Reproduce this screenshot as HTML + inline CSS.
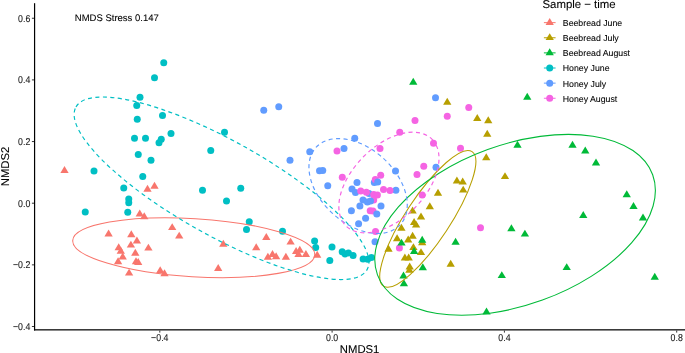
<!DOCTYPE html>
<html><head><meta charset="utf-8"><title>NMDS plot</title>
<style>
html,body{margin:0;padding:0;background:#fff}
svg{display:block}
text{font-family:"Liberation Sans",Arial,sans-serif;fill:#000;stroke:#000;stroke-width:0.08px;text-rendering:geometricPrecision}
.tk{font-size:8.8px;fill:#1a1a1a}
.ti{font-size:11.3px}
.an{font-size:9.5px}
.lt{font-size:11.4px}
.lg{font-size:8.75px}
</style></head><body>
<svg width="685" height="353" viewBox="0 0 685 353">
<rect width="685" height="353" fill="#fff"/>
<g><path d="M64.50 166.05L68.65 173.00L60.35 173.00Z" fill="#F8766D"/><path d="M154.50 181.85L158.65 188.80L150.35 188.80Z" fill="#F8766D"/><path d="M147.50 184.85L151.65 191.80L143.35 191.80Z" fill="#F8766D"/><path d="M139.75 209.60L143.90 216.55L135.60 216.55Z" fill="#F8766D"/><path d="M144.25 212.35L148.40 219.30L140.10 219.30Z" fill="#F8766D"/><path d="M172.20 223.15L176.35 230.10L168.05 230.10Z" fill="#F8766D"/><path d="M179.20 231.65L183.35 238.60L175.05 238.60Z" fill="#F8766D"/><path d="M108.60 229.55L112.75 236.50L104.45 236.50Z" fill="#F8766D"/><path d="M131.30 230.35L135.45 237.30L127.15 237.30Z" fill="#F8766D"/><path d="M136.90 236.55L141.05 243.50L132.75 243.50Z" fill="#F8766D"/><path d="M130.90 240.65L135.05 247.60L126.75 247.60Z" fill="#F8766D"/><path d="M118.70 243.35L122.85 250.30L114.55 250.30Z" fill="#F8766D"/><path d="M148.40 243.65L152.55 250.60L144.25 250.60Z" fill="#F8766D"/><path d="M120.80 246.75L124.95 253.70L116.65 253.70Z" fill="#F8766D"/><path d="M135.30 248.75L139.45 255.70L131.15 255.70Z" fill="#F8766D"/><path d="M122.70 252.55L126.85 259.50L118.55 259.50Z" fill="#F8766D"/><path d="M118.10 257.35L122.25 264.30L113.95 264.30Z" fill="#F8766D"/><path d="M136.00 257.35L140.15 264.30L131.85 264.30Z" fill="#F8766D"/><path d="M138.20 257.95L142.35 264.90L134.05 264.90Z" fill="#F8766D"/><path d="M129.10 268.65L133.25 275.60L124.95 275.60Z" fill="#F8766D"/><path d="M160.20 266.35L164.35 273.30L156.05 273.30Z" fill="#F8766D"/><path d="M164.50 269.25L168.65 276.20L160.35 276.20Z" fill="#F8766D"/><path d="M223.30 239.75L227.45 246.70L219.15 246.70Z" fill="#F8766D"/><path d="M218.20 263.95L222.35 270.90L214.05 270.90Z" fill="#F8766D"/><path d="M266.30 232.95L270.45 239.90L262.15 239.90Z" fill="#F8766D"/><path d="M256.20 243.35L260.35 250.30L252.05 250.30Z" fill="#F8766D"/><path d="M290.60 237.65L294.75 244.60L286.45 244.60Z" fill="#F8766D"/><path d="M267.90 252.75L272.05 259.70L263.75 259.70Z" fill="#F8766D"/><path d="M272.50 250.05L276.65 257.00L268.35 257.00Z" fill="#F8766D"/><path d="M276.10 252.35L280.25 259.30L271.95 259.30Z" fill="#F8766D"/><path d="M285.90 252.75L290.05 259.70L281.75 259.70Z" fill="#F8766D"/><path d="M296.10 247.05L300.25 254.00L291.95 254.00Z" fill="#F8766D"/><path d="M299.80 245.75L303.95 252.70L295.65 252.70Z" fill="#F8766D"/><path d="M298.50 250.05L302.65 257.00L294.35 257.00Z" fill="#F8766D"/><path d="M305.90 250.05L310.05 257.00L301.75 257.00Z" fill="#F8766D"/><path d="M317.20 250.75L321.35 257.70L313.05 257.70Z" fill="#F8766D"/><circle cx="163.75" cy="62.75" r="3.5" fill="#00BFC4"/><circle cx="154.50" cy="77.75" r="3.5" fill="#00BFC4"/><circle cx="140.00" cy="97.25" r="3.5" fill="#00BFC4"/><circle cx="136.75" cy="105.50" r="3.5" fill="#00BFC4"/><circle cx="162.50" cy="115.50" r="3.5" fill="#00BFC4"/><circle cx="137.25" cy="119.25" r="3.5" fill="#00BFC4"/><circle cx="171.00" cy="133.50" r="3.5" fill="#00BFC4"/><circle cx="134.50" cy="138.25" r="3.5" fill="#00BFC4"/><circle cx="145.50" cy="138.25" r="3.5" fill="#00BFC4"/><circle cx="161.25" cy="139.25" r="3.5" fill="#00BFC4"/><circle cx="159.00" cy="142.75" r="3.5" fill="#00BFC4"/><circle cx="138.25" cy="154.50" r="3.5" fill="#00BFC4"/><circle cx="151.00" cy="160.25" r="3.5" fill="#00BFC4"/><circle cx="94.00" cy="171.00" r="3.5" fill="#00BFC4"/><circle cx="142.75" cy="176.50" r="3.5" fill="#00BFC4"/><circle cx="224.50" cy="132.25" r="3.5" fill="#00BFC4"/><circle cx="210.75" cy="150.50" r="3.5" fill="#00BFC4"/><circle cx="123.75" cy="188.00" r="3.5" fill="#00BFC4"/><circle cx="128.75" cy="199.00" r="3.5" fill="#00BFC4"/><circle cx="128.75" cy="202.75" r="3.5" fill="#00BFC4"/><circle cx="127.75" cy="212.25" r="3.5" fill="#00BFC4"/><circle cx="85.25" cy="212.00" r="3.5" fill="#00BFC4"/><circle cx="202.50" cy="190.25" r="3.5" fill="#00BFC4"/><circle cx="240.75" cy="188.25" r="3.5" fill="#00BFC4"/><circle cx="226.50" cy="201.00" r="3.5" fill="#00BFC4"/><circle cx="249.25" cy="221.75" r="3.5" fill="#00BFC4"/><circle cx="246.50" cy="229.50" r="3.5" fill="#00BFC4"/><circle cx="282.50" cy="231.20" r="3.5" fill="#00BFC4"/><circle cx="314.60" cy="241.00" r="3.5" fill="#00BFC4"/><circle cx="315.70" cy="247.40" r="3.5" fill="#00BFC4"/><circle cx="332.00" cy="247.00" r="3.5" fill="#00BFC4"/><circle cx="329.80" cy="260.50" r="3.5" fill="#00BFC4"/><circle cx="342.20" cy="251.80" r="3.5" fill="#00BFC4"/><circle cx="345.00" cy="253.90" r="3.5" fill="#00BFC4"/><circle cx="348.40" cy="252.90" r="3.5" fill="#00BFC4"/><circle cx="353.10" cy="255.60" r="3.5" fill="#00BFC4"/><circle cx="363.10" cy="259.00" r="3.5" fill="#00BFC4"/><circle cx="367.60" cy="259.30" r="3.5" fill="#00BFC4"/><circle cx="371.40" cy="257.50" r="3.5" fill="#00BFC4"/><circle cx="263.75" cy="110.25" r="3.5" fill="#619CFF"/><circle cx="278.75" cy="106.75" r="3.5" fill="#619CFF"/><circle cx="309.75" cy="151.75" r="3.5" fill="#619CFF"/><circle cx="290.00" cy="160.25" r="3.5" fill="#619CFF"/><circle cx="319.50" cy="170.75" r="3.5" fill="#619CFF"/><circle cx="322.75" cy="170.50" r="3.5" fill="#619CFF"/><circle cx="344.00" cy="148.50" r="3.5" fill="#619CFF"/><circle cx="435.50" cy="97.75" r="3.5" fill="#619CFF"/><circle cx="377.50" cy="123.50" r="3.5" fill="#619CFF"/><circle cx="354.75" cy="138.25" r="3.5" fill="#619CFF"/><circle cx="395.50" cy="171.00" r="3.5" fill="#619CFF"/><circle cx="436.00" cy="167.25" r="3.5" fill="#619CFF"/><circle cx="327.75" cy="185.75" r="3.5" fill="#619CFF"/><circle cx="357.00" cy="182.60" r="3.5" fill="#619CFF"/><circle cx="374.30" cy="182.60" r="3.5" fill="#619CFF"/><circle cx="352.00" cy="189.10" r="3.5" fill="#619CFF"/><circle cx="355.50" cy="192.60" r="3.5" fill="#619CFF"/><circle cx="395.90" cy="190.30" r="3.5" fill="#619CFF"/><circle cx="369.00" cy="193.50" r="3.5" fill="#619CFF"/><circle cx="363.00" cy="200.10" r="3.5" fill="#619CFF"/><circle cx="359.90" cy="206.00" r="3.5" fill="#619CFF"/><circle cx="381.00" cy="206.00" r="3.5" fill="#619CFF"/><circle cx="351.40" cy="210.80" r="3.5" fill="#619CFF"/><circle cx="365.60" cy="218.30" r="3.5" fill="#619CFF"/><circle cx="358.60" cy="223.80" r="3.5" fill="#619CFF"/><circle cx="375.00" cy="241.80" r="3.5" fill="#619CFF"/><circle cx="337.00" cy="151.00" r="3.5" fill="#F564E3"/><circle cx="342.30" cy="177.30" r="3.5" fill="#F564E3"/><circle cx="468.75" cy="107.50" r="3.5" fill="#F564E3"/><circle cx="447.25" cy="116.25" r="3.5" fill="#F564E3"/><circle cx="415.00" cy="120.50" r="3.5" fill="#F564E3"/><circle cx="399.75" cy="132.25" r="3.5" fill="#F564E3"/><circle cx="433.50" cy="143.25" r="3.5" fill="#F564E3"/><circle cx="460.50" cy="148.25" r="3.5" fill="#F564E3"/><circle cx="380.00" cy="148.50" r="3.5" fill="#F564E3"/><circle cx="423.75" cy="166.25" r="3.5" fill="#F564E3"/><circle cx="380.70" cy="175.20" r="3.5" fill="#F564E3"/><circle cx="417.00" cy="174.60" r="3.5" fill="#F564E3"/><circle cx="375.30" cy="179.40" r="3.5" fill="#F564E3"/><circle cx="383.50" cy="189.50" r="3.5" fill="#F564E3"/><circle cx="390.00" cy="190.50" r="3.5" fill="#F564E3"/><circle cx="360.70" cy="191.10" r="3.5" fill="#F564E3"/><circle cx="366.40" cy="192.30" r="3.5" fill="#F564E3"/><circle cx="373.70" cy="194.50" r="3.5" fill="#F564E3"/><circle cx="377.40" cy="194.90" r="3.5" fill="#F564E3"/><circle cx="373.70" cy="200.10" r="3.5" fill="#F564E3"/><circle cx="370.20" cy="210.80" r="3.5" fill="#F564E3"/><circle cx="373.00" cy="210.90" r="3.5" fill="#F564E3"/><circle cx="422.20" cy="195.10" r="3.5" fill="#F564E3"/><circle cx="375.50" cy="231.50" r="3.5" fill="#F564E3"/><circle cx="399.40" cy="248.00" r="3.5" fill="#F564E3"/><circle cx="480.50" cy="227.80" r="3.5" fill="#F564E3"/><circle cx="376.80" cy="214.00" r="3.5" fill="#619CFF"/><circle cx="377.70" cy="181.90" r="3.5" fill="#619CFF"/><circle cx="367.40" cy="202.00" r="3.5" fill="#619CFF"/><circle cx="370.50" cy="201.10" r="3.5" fill="#619CFF"/><path d="M447.25 97.85L451.40 104.80L443.10 104.80Z" fill="#B79F00"/><path d="M477.25 114.10L481.40 121.05L473.10 121.05Z" fill="#B79F00"/><path d="M488.25 116.35L492.40 123.30L484.10 123.30Z" fill="#B79F00"/><path d="M487.25 129.85L491.40 136.80L483.10 136.80Z" fill="#B79F00"/><path d="M486.25 153.35L490.40 160.30L482.10 160.30Z" fill="#B79F00"/><path d="M505.00 172.15L509.15 179.10L500.85 179.10Z" fill="#B79F00"/><path d="M456.90 176.55L461.05 183.50L452.75 183.50Z" fill="#B79F00"/><path d="M462.70 177.55L466.85 184.50L458.55 184.50Z" fill="#B79F00"/><path d="M463.20 185.65L467.35 192.60L459.05 192.60Z" fill="#B79F00"/><path d="M438.00 188.85L442.15 195.80L433.85 195.80Z" fill="#B79F00"/><path d="M429.80 202.25L433.95 209.20L425.65 209.20Z" fill="#B79F00"/><path d="M412.60 206.55L416.75 213.50L408.45 213.50Z" fill="#B79F00"/><path d="M421.00 212.55L425.15 219.50L416.85 219.50Z" fill="#B79F00"/><path d="M414.10 217.95L418.25 224.90L409.95 224.90Z" fill="#B79F00"/><path d="M416.10 220.65L420.25 227.60L411.95 227.60Z" fill="#B79F00"/><path d="M401.40 223.85L405.55 230.80L397.25 230.80Z" fill="#B79F00"/><path d="M412.60 231.75L416.75 238.70L408.45 238.70Z" fill="#B79F00"/><path d="M397.10 234.25L401.25 241.20L392.95 241.20Z" fill="#B79F00"/><path d="M408.20 235.45L412.35 242.40L404.05 242.40Z" fill="#B79F00"/><path d="M422.20 238.35L426.35 245.30L418.05 245.30Z" fill="#B79F00"/><path d="M413.40 243.15L417.55 250.10L409.25 250.10Z" fill="#B79F00"/><path d="M388.50 244.75L392.65 251.70L384.35 251.70Z" fill="#B79F00"/><path d="M421.00 248.15L425.15 255.10L416.85 255.10Z" fill="#B79F00"/><path d="M404.90 253.55L409.05 260.50L400.75 260.50Z" fill="#B79F00"/><path d="M408.70 253.55L412.85 260.50L404.55 260.50Z" fill="#B79F00"/><path d="M409.70 262.45L413.85 269.40L405.55 269.40Z" fill="#B79F00"/><path d="M409.40 265.85L413.55 272.80L405.25 272.80Z" fill="#B79F00"/><path d="M450.70 259.85L454.85 266.80L446.55 266.80Z" fill="#B79F00"/><path d="M413.25 77.85L417.40 84.80L409.10 84.80Z" fill="#00BA38"/><path d="M527.25 92.85L531.40 99.80L523.10 99.80Z" fill="#00BA38"/><path d="M517.50 140.85L521.65 147.80L513.35 147.80Z" fill="#00BA38"/><path d="M572.50 140.85L576.65 147.80L568.35 147.80Z" fill="#00BA38"/><path d="M585.25 146.60L589.40 153.55L581.10 153.55Z" fill="#00BA38"/><path d="M596.00 158.60L600.15 165.55L591.85 165.55Z" fill="#00BA38"/><path d="M626.75 190.35L630.90 197.30L622.60 197.30Z" fill="#00BA38"/><path d="M633.50 202.10L637.65 209.05L629.35 209.05Z" fill="#00BA38"/><path d="M643.00 213.60L647.15 220.55L638.85 220.55Z" fill="#00BA38"/><path d="M583.25 211.10L587.40 218.05L579.10 218.05Z" fill="#00BA38"/><path d="M524.90 229.65L529.05 236.60L520.75 236.60Z" fill="#00BA38"/><path d="M511.40 224.25L515.55 231.20L507.25 231.20Z" fill="#00BA38"/><path d="M455.60 237.85L459.75 244.80L451.45 244.80Z" fill="#00BA38"/><path d="M422.20 235.75L426.35 242.70L418.05 242.70Z" fill="#00BA38"/><path d="M401.50 238.65L405.65 245.60L397.35 245.60Z" fill="#00BA38"/><path d="M414.10 246.95L418.25 253.90L409.95 253.90Z" fill="#00BA38"/><path d="M422.80 263.35L426.95 270.30L418.65 270.30Z" fill="#00BA38"/><path d="M403.50 271.55L407.65 278.50L399.35 278.50Z" fill="#00BA38"/><path d="M403.90 279.35L408.05 286.30L399.75 286.30Z" fill="#00BA38"/><path d="M501.80 271.15L505.95 278.10L497.65 278.10Z" fill="#00BA38"/><path d="M566.70 263.15L570.85 270.10L562.55 270.10Z" fill="#00BA38"/><path d="M486.50 307.60L490.65 314.55L482.35 314.55Z" fill="#00BA38"/><path d="M654.75 272.85L658.90 279.80L650.60 279.80Z" fill="#00BA38"/><ellipse cx="193.75" cy="247.71" rx="121.24" ry="29.08" transform="rotate(-176.57 193.75 247.71)" fill="none" stroke="#F8766D" stroke-width="1.08"/><ellipse cx="427.82" cy="218.88" rx="80.50" ry="22.16" transform="rotate(-56.64 427.82 218.88)" fill="none" stroke="#B79F00" stroke-width="1.08"/><ellipse cx="515.07" cy="224.80" rx="146.42" ry="80.11" transform="rotate(160.02 515.07 224.80)" fill="none" stroke="#00BA38" stroke-width="1.08"/><ellipse cx="221.53" cy="188.28" rx="166.73" ry="47.46" transform="rotate(-150.81 221.53 188.28)" fill="none" stroke="#00BFC4" stroke-width="1.18" stroke-dasharray="4.1 3.4"/><ellipse cx="358.11" cy="186.05" rx="57.16" ry="37.47" transform="rotate(-137.52 358.11 186.05)" fill="none" stroke="#619CFF" stroke-width="1.18" stroke-dasharray="4.1 3.4"/><ellipse cx="388.93" cy="182.51" rx="61.08" ry="36.23" transform="rotate(-45.29 388.93 182.51)" fill="none" stroke="#F564E3" stroke-width="1.18" stroke-dasharray="4.1 3.4"/></g>
<g><rect x="33.98" y="3.2" width="1.2" height="327.26" fill="#000"/><rect x="33.98" y="329.23" width="651.1" height="1.23" fill="#000"/><rect x="159.30" y="330.5" width="1" height="2.1" fill="#333"/><text transform="translate(159.8 340.75) scale(1 1.12)" text-anchor="middle" class="tk">−0.4</text><rect x="331.60" y="330.5" width="1" height="2.1" fill="#333"/><text transform="translate(332.1 340.75) scale(1 1.12)" text-anchor="middle" class="tk">0.0</text><rect x="503.90" y="330.5" width="1" height="2.1" fill="#333"/><text transform="translate(504.4 340.75) scale(1 1.12)" text-anchor="middle" class="tk">0.4</text><rect x="676.20" y="330.5" width="1" height="2.1" fill="#333"/><text transform="translate(676.7 340.75) scale(1 1.12)" text-anchor="middle" class="tk">0.8</text><rect x="31.9" y="17.75" width="2.1" height="1" fill="#333"/><text transform="translate(30.3 21.70) scale(1 1.12)" text-anchor="end" class="tk">0.6</text><rect x="31.9" y="79.40" width="2.1" height="1" fill="#333"/><text transform="translate(30.3 83.35) scale(1 1.12)" text-anchor="end" class="tk">0.4</text><rect x="31.9" y="141.05" width="2.1" height="1" fill="#333"/><text transform="translate(30.3 145.00) scale(1 1.12)" text-anchor="end" class="tk">0.2</text><rect x="31.9" y="202.70" width="2.1" height="1" fill="#333"/><text transform="translate(30.3 206.65) scale(1 1.12)" text-anchor="end" class="tk">0.0</text><rect x="31.9" y="264.35" width="2.1" height="1" fill="#333"/><text transform="translate(30.3 268.30) scale(1 1.12)" text-anchor="end" class="tk">−0.2</text><rect x="31.9" y="326.00" width="2.1" height="1" fill="#333"/><text transform="translate(30.3 329.95) scale(1 1.12)" text-anchor="end" class="tk">−0.4</text><text x="359.6" y="353.1" text-anchor="middle" class="ti">NMDS1</text><text transform="translate(8.9 166.5) rotate(-90)" text-anchor="middle" class="ti">NMDS2</text><text x="74.8" y="21.3" class="an">NMDS Stress 0.147</text></g>
<g><text x="542.5" y="8.4" class="lt">Sample − time</text><path d="M543.9 22.65H555.6" stroke="#F8766D" stroke-width="1"/><path d="M549.7 18.02L553.85 24.97L545.55 24.97Z" fill="#F8766D"/><text x="562.8" y="26.05" class="lg">Beebread June</text><path d="M543.9 37.77H555.6" stroke="#B79F00" stroke-width="1"/><path d="M549.7 33.14L553.85 40.09L545.55 40.09Z" fill="#B79F00"/><text x="562.8" y="41.17" class="lg">Beebread July</text><path d="M543.9 52.89H555.6" stroke="#00BA38" stroke-width="1"/><path d="M549.7 48.26L553.85 55.21L545.55 55.21Z" fill="#00BA38"/><text x="562.8" y="56.29" class="lg">Beebread August</text><path d="M543.9 68.01H555.6" stroke="#00BFC4" stroke-width="1"/><circle cx="549.7" cy="68.01" r="3.5" fill="#00BFC4"/><text x="562.8" y="71.41" class="lg">Honey June</text><path d="M543.9 83.13H555.6" stroke="#619CFF" stroke-width="1"/><circle cx="549.7" cy="83.13" r="3.5" fill="#619CFF"/><text x="562.8" y="86.53" class="lg">Honey July</text><path d="M543.9 98.25H555.6" stroke="#F564E3" stroke-width="1"/><circle cx="549.7" cy="98.25" r="3.5" fill="#F564E3"/><text x="562.8" y="101.65" class="lg">Honey August</text></g>
</svg>
</body></html>
